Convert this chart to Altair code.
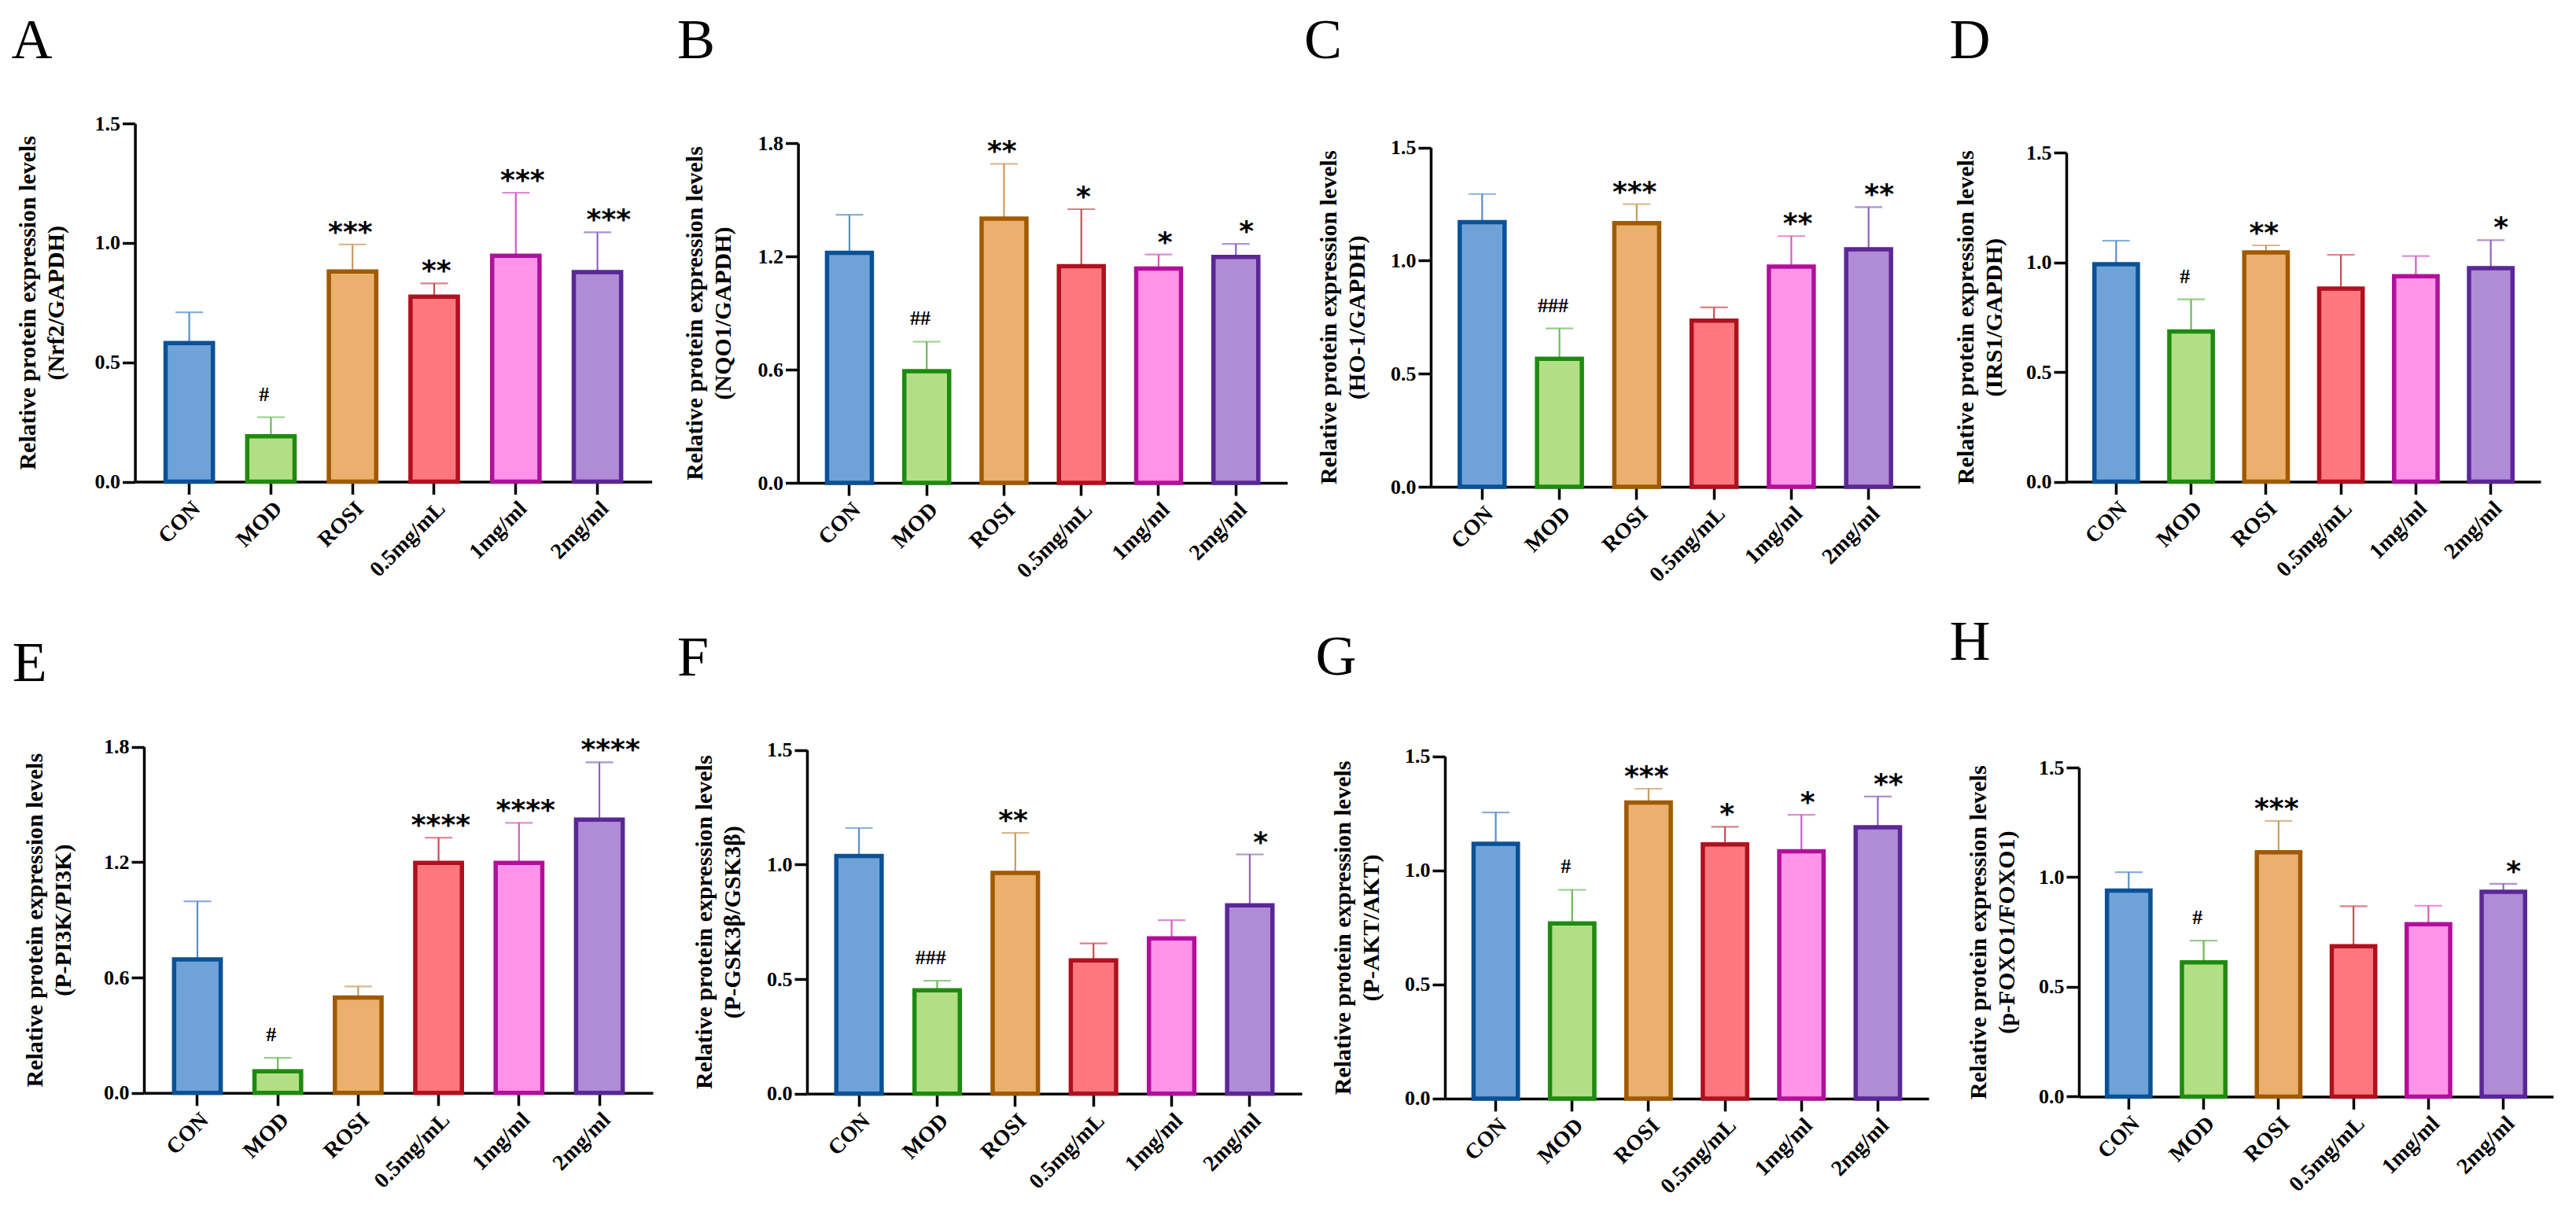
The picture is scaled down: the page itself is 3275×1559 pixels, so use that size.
import altair as alt
import pandas as pd

groups = ["CON", "MOD", "ROSI", "0.5mg/mL", "1mg/ml", "2mg/ml"]

# ---- values (mean, upper end of error bar, significance) ----
nrf2_mean = [0.58, 0.19, 0.88, 0.775, 0.946, 0.878]
nrf2_err = [0.709, 0.27, 0.993, 0.83, 1.21, 1.044]
nrf2_sig = ["", "#", "***", "**", "***", "***"]

nqo1_mean = [1.219, 0.592, 1.40, 1.148, 1.135, 1.197]
nqo1_err = [1.42, 0.748, 1.69, 1.45, 1.21, 1.266]
nqo1_sig = ["", "##", "**", "*", "*", "*"]

ho1_mean = [1.17, 0.566, 1.165, 0.734, 0.973, 1.05]
ho1_err = [1.294, 0.70, 1.249, 0.793, 1.108, 1.236]
ho1_sig = ["", "###", "***", "", "**", "**"]

irs1_mean = [0.991, 0.685, 1.045, 0.88, 0.936, 0.973]
irs1_err = [1.098, 0.831, 1.077, 1.034, 1.028, 1.101]
irs1_sig = ["", "#", "**", "", "", "*"]

pi3k_mean = [0.694, 0.1125, 0.496, 1.196, 1.196, 1.421]
pi3k_err = [0.996, 0.183, 0.554, 1.327, 1.404, 1.719]
pi3k_sig = ["", "#", "", "****", "****", "****"]

gsk_mean = [1.037, 0.451, 0.963, 0.582, 0.678, 0.822]
gsk_err = [1.159, 0.493, 1.138, 0.656, 0.757, 1.044]
gsk_sig = ["", "###", "**", "", "", "*"]

akt_mean = [1.117, 0.768, 1.298, 1.114, 1.084, 1.189]
akt_err = [1.254, 0.915, 1.358, 1.191, 1.244, 1.324]
akt_sig = ["", "#", "***", "*", "*", "**"]

foxo_mean = [0.939, 0.612, 1.114, 0.685, 0.786, 0.934]
foxo_err = [1.023, 0.711, 1.257, 0.868, 0.87, 0.970]
foxo_sig = ["", "#", "***", "", "", "*"]

letters = ["A", "B", "C", "D", "E", "F", "G", "H"]
subtitles = ["(Nrf2/GAPDH)", "(NQO1/GAPDH)", "(HO-1/GAPDH)", "(IRS1/GAPDH)",
             "(P-PI3K/PI3K)", "(P-GSK3\u03b2/GSK3\u03b2)", "(P-AKT/AKT)", "(p-FOXO1/FOXO1)"]
ymaxes = [1.5, 1.8, 1.5, 1.5, 1.8, 1.5, 1.5, 1.5]
ticks_15 = [0, 0.5, 1.0, 1.5]
ticks_18 = [0, 0.6, 1.2, 1.8]
means = [nrf2_mean, nqo1_mean, ho1_mean, irs1_mean, pi3k_mean, gsk_mean, akt_mean, foxo_mean]
errs = [nrf2_err, nqo1_err, ho1_err, irs1_err, pi3k_err, gsk_err, akt_err, foxo_err]
sigs = [nrf2_sig, nqo1_sig, ho1_sig, irs1_sig, pi3k_sig, gsk_sig, akt_sig, foxo_sig]

# ---- styles ----
fills = ["#6FA3D8", "#B2DF85", "#EBB06E", "#FC787E", "#FF93E9", "#B08BD6"]
strokes = ["#0B5197", "#1E8B10", "#A05A00", "#B0111E", "#B1109B", "#5B2797"]
errcols = ["#5A8FCB", "#6DB85A", "#CD9A5E", "#CB4C55", "#D35CC4", "#8B64C1"]

# ---- layout (page pixel positions): plot left, right, top, bottom, letter x, letter baseline, title padding ----
layout = [
    (171.6, 828.6, 157.0, 612.5, 14.6, 74.0, 34),
    (1014.6, 1636.6, 182.0, 614.0, 861.0, 74.0, 29),
    (1819.0, 2441.0, 187.5, 619.0, 1658.0, 74.0, 27),
    (2627.0, 3230.0, 194.0, 612.5, 2478.5, 74.0, 25),
    (183.0, 830.0, 949.6, 1389.8, 15.7, 866.0, 36),
    (1026.0, 1655.0, 953.6, 1390.8, 861.0, 859.4, 28),
    (1837.0, 2452.0, 961.8, 1396.9, 1672.4, 857.8, 27),
    (2643.0, 3246.0, 976.0, 1394.4, 2478.5, 839.0, 25),
]

M = 8
CH_W, CH_H = 3259, 1543
SERIF = "Liberation Serif"


def panel_layers(i):
    L, R, T, B, lx, ly, tpad = layout[i]
    sig = sigs[i]
    df = pd.DataFrame({
        "group": groups,
        "mean": means[i],
        "err": errs[i],
        "star": [s if "*" in s else "" for s in sig],
        "hash": [s if "#" in s else "" for s in sig],
    })
    xscale = alt.Scale(domain=groups, range=[L - M, R - M], paddingInner=0.42, paddingOuter=0.375)
    yscale = alt.Scale(domain=[0, ymaxes[i]], range=[B - M, T - M], nice=False, zero=True)
    ticks = ticks_18 if ymaxes[i] == 1.8 else ticks_15

    x_axis = alt.Axis(orient="bottom", offset=-(CH_H - (B - M)), title=None, labelAngle=-45,
                      labelFontSize=28, labelPadding=4)
    y_axis = alt.Axis(orient="left", offset=-(L - M), values=ticks, format=".1f",
                      title=["Relative protein expression levels", subtitles[i]],
                      titlePadding=tpad, titleLineHeight=36)

    base = alt.Chart(df)
    xenc = alt.X("group:N", sort=groups, scale=xscale, axis=None)
    colenc = alt.Color("group:N", scale=alt.Scale(domain=groups, range=errcols), legend=None)

    err_rule = base.mark_rule(strokeWidth=2.2).encode(
        x=xenc, y=alt.Y("mean:Q", scale=yscale, axis=None), y2="err:Q", color=colenc)
    caps = base.mark_tick(size=35, thickness=2.2, orient="horizontal").encode(
        x=xenc, y=alt.Y("err:Q", scale=yscale, axis=None), color=colenc)
    bars = base.mark_bar(strokeWidth=5.5).encode(
        x=alt.X("group:N", sort=groups, scale=xscale, axis=x_axis),
        y=alt.Y("mean:Q", scale=yscale, axis=y_axis),
        fill=alt.Fill("group:N", scale=alt.Scale(domain=groups, range=fills), legend=None),
        stroke=alt.Stroke("group:N", scale=alt.Scale(domain=groups, range=strokes), legend=None),
    )
    stars = base.mark_text(font="DejaVu Sans", fontWeight="bold", fontSize=36,
                           baseline="alphabetic", dy=-4, color="black").encode(
        x=xenc, y=alt.Y("err:Q", scale=yscale, axis=None), text="star:N")
    hashes = base.mark_text(font=SERIF, fontWeight="bold", fontSize=26,
                            baseline="alphabetic", dy=-21, color="black").encode(
        x=xenc, y=alt.Y("err:Q", scale=yscale, axis=None), text="hash:N")
    letter = alt.Chart(pd.DataFrame({"t": [letters[i]]})).mark_text(
        font=SERIF, fontSize=72, align="left", baseline="alphabetic", color="black").encode(
        x=alt.value(lx - M), y=alt.value(ly - M), text="t:N")
    return [err_rule, caps, bars, stars, hashes, letter]


all_layers = []
for i in range(8):
    all_layers.extend(panel_layers(i))

chart = alt.layer(*all_layers).resolve_scale(
    x="independent", y="independent"
).resolve_axis(
    x="independent", y="independent"
).properties(
    width=CH_W, height=CH_H, padding=0, autosize=alt.AutoSizeParams(type="none"),
    background="white",
).configure_view(stroke=None).configure_axis(
    grid=False, domainColor="black", domainWidth=3.5, tickColor="black", tickWidth=3.5,
    tickSize=16, labelFont=SERIF, labelFontWeight="bold", labelFontSize=26, labelColor="black",
    labelPadding=3, titleFont=SERIF, titleFontWeight="bold", titleFontSize=30, titleColor="black",
    zindex=1,
)

chart.save("out.html", embed_options={"renderer": "svg", "actions": False})
